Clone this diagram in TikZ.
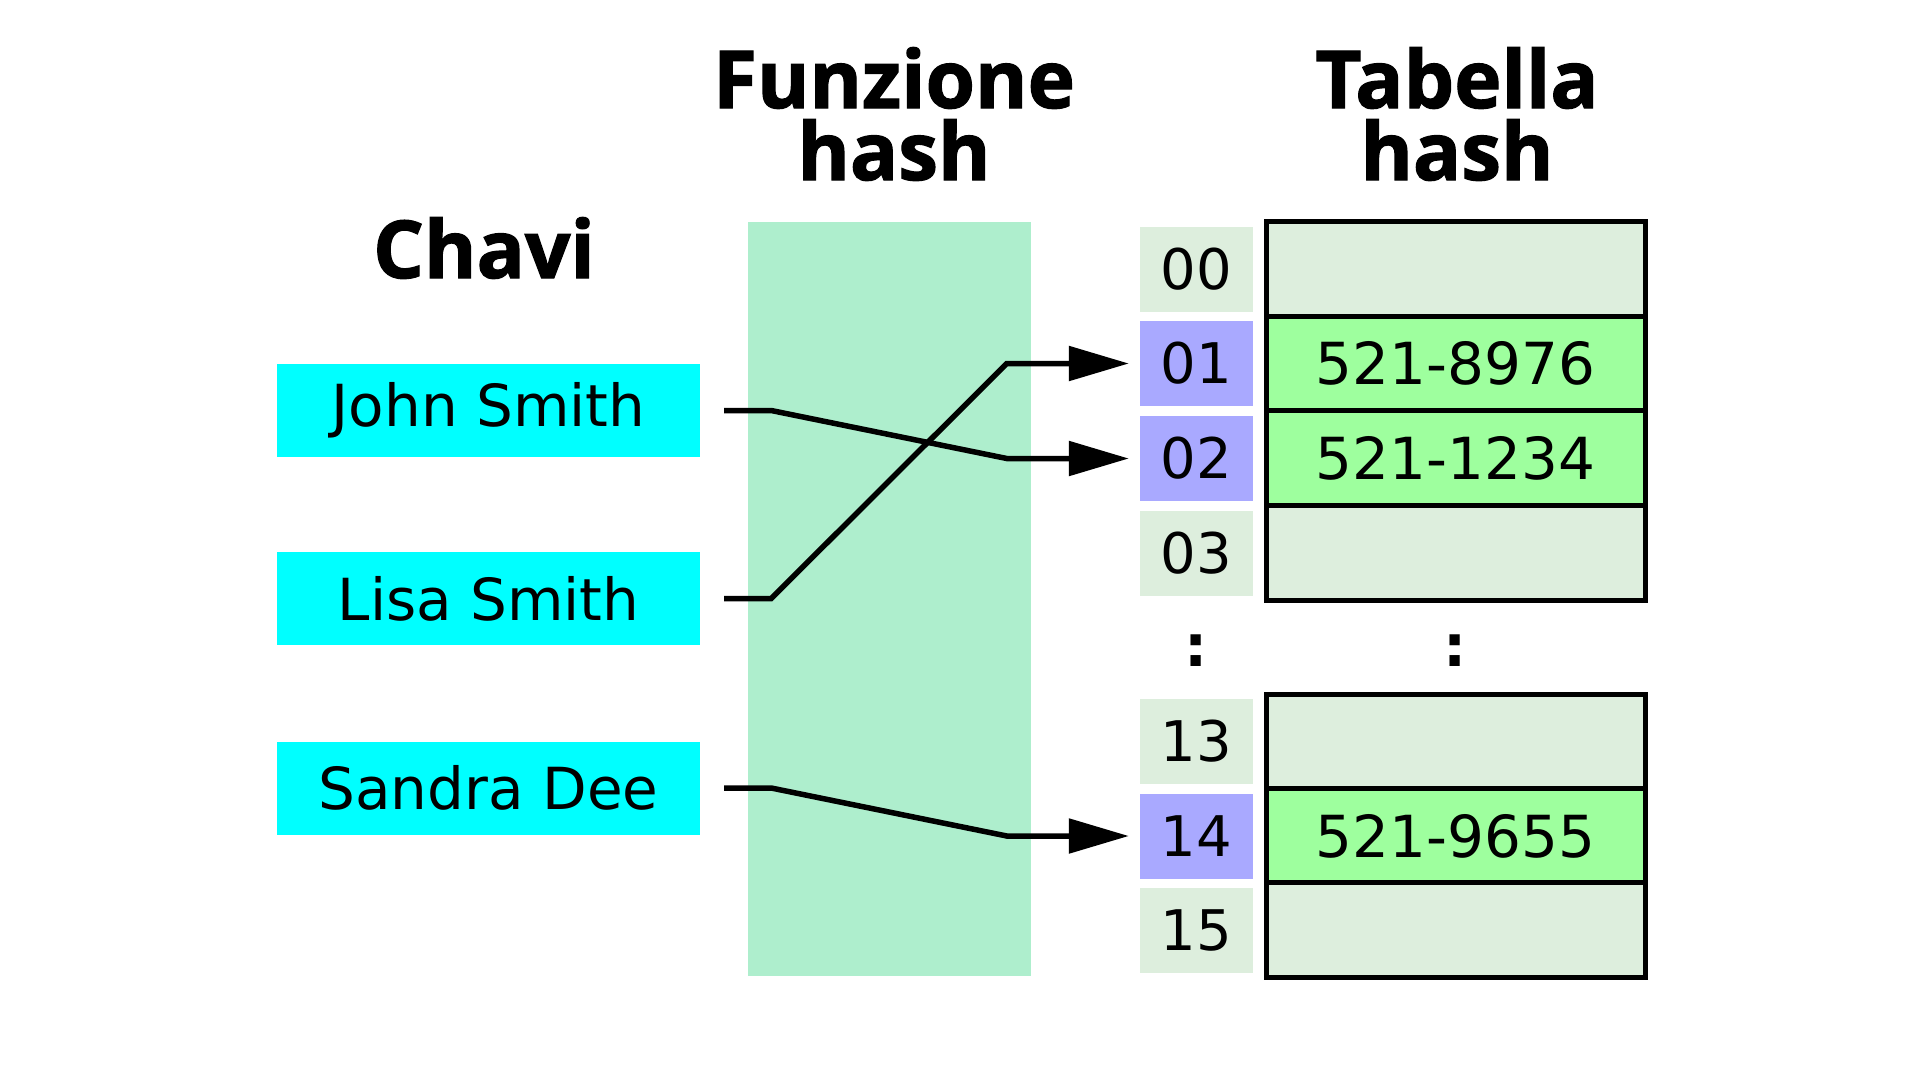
\documentclass[tikz,border=0pt]{standalone}
\usepackage{fontspec}
\setmainfont{DejaVu Sans}
\newfontfamily\titlefont{Open Sans}[BoldFeatures={FakeBold=1.5}]
\usetikzlibrary{arrows.meta}
\definecolor{keycyan}{HTML}{00FFFF}
\definecolor{hashfn}{HTML}{AEEECD}
\definecolor{pale}{HTML}{DDEEDD}
\definecolor{hit}{HTML}{A9A9FF}
\definecolor{filled}{HTML}{9EFF9E}
\tikzset{
  keybox/.style={rectangle, fill=keycyan, minimum width=423pt, minimum height=93pt, inner sep=0pt, font=\fontsize{58}{60}\selectfont},
  idx/.style={rectangle, fill=pale, minimum width=113pt, minimum height=85pt, inner sep=0pt, font=\fontsize{56}{60}\selectfont},
  idxhit/.style={idx, fill=hit},
  cell/.style={rectangle, draw=black, line width=5pt, fill=pale, minimum width=379pt, minimum height=94.5pt, inner sep=0pt, font=\fontsize{58}{60}\selectfont},
  cellhit/.style={cell, fill=filled},
  title/.style={font=\titlefont\bfseries\fontsize{80}{72}\selectfont, align=center, anchor=base, inner sep=0pt},
  dotsym/.style={font=\bfseries\fontsize{58}{60}\selectfont, anchor=base, inner sep=0pt},
  link/.style={line width=5.5pt, line join=miter, -{Triangle[length=60pt, width=34pt]}}
}
\begin{document}
\begin{tikzpicture}[x=1pt, y=-1pt]
\useasboundingbox (0,0) rectangle (1920,1080);
\fill[white] (0,0) rectangle (1920,1080);
% titles
\node[title] (tchavi) at (484,278) {Chavi};
\node[title] (tfun) at (894,180) {Funzione\\hash};
\node[title] (ttab) at (1457,180) {Tabella\\hash};
% hash function band
\fill[hashfn] (748,222) rectangle (1031,976);
% keys
\node[keybox] (js) at (488.5,410.5) {John Smith};
\node[keybox] (ls) at (488.5,598.5) {Lisa Smith};
\node[keybox] (sd) at (488.5,788) {Sandra Dee};
% index column
\node[idx] (i00) at (1196.5,269) {00};
\node[idxhit] (i01) at (1196.5,363.5) {01};
\node[idxhit] (i02) at (1196.5,458.5) {02};
\node[idx] (i03) at (1196.5,553) {03};
\node[idx] (i13) at (1196.5,741.5) {13};
\node[idxhit] (i14) at (1196.5,836) {14};
\node[idx] (i15) at (1196.5,930) {15};
% table cells
\node[cell] (c00) at (1455.5,269) {};
\node[cellhit] (c01) at (1455.5,363.5) {521-8976};
\node[cellhit] (c02) at (1455.5,458) {521-1234};
\node[cell] (c03) at (1455.5,553) {};
\node[cell] (c13) at (1455.5,741.5) {};
\node[cellhit] (c14) at (1455.5,836) {521-9655};
\node[cell] (c15) at (1455.5,930) {};
% ellipsis
\node[dotsym] (d1) at (1196.5,666) {:};
\node[dotsym] (d2) at (1455.5,666) {:};
% connectors
\draw[link] ([xshift=24pt]js.east) -- ++(47,0) -- ([xshift=-133pt]i02.west) -- ([xshift=-11pt]i02.west);
\draw[link] ([xshift=24pt]ls.east) -- ++(47,0) -- ([xshift=-133pt]i01.west) -- ([xshift=-11pt]i01.west);
\draw[link] ([xshift=24pt]sd.east) -- ++(47,0) -- ([xshift=-133pt]i14.west) -- ([xshift=-11pt]i14.west);
\end{tikzpicture}
\end{document}
